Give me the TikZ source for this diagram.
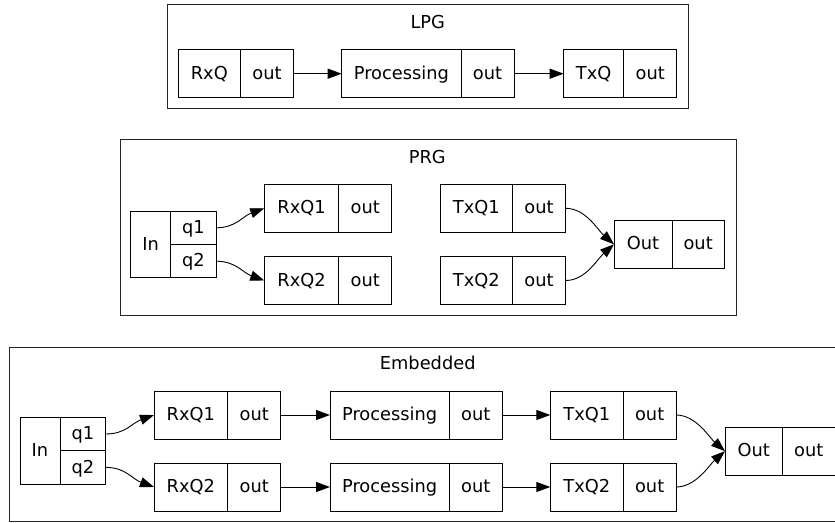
\documentclass[tikz,border=0pt]{standalone}
\usepackage{fontspec}
\setmainfont{DejaVu Sans}
\usetikzlibrary{arrows.meta}
\newcommand\gvfont{\fontsize{17.8bp}{20bp}\selectfont}
\tikzset{
  cell/.style={draw, line width=0.9bp, inner sep=0pt, outer sep=0pt,
    minimum height=48bp, text height=14bp, text depth=2.8bp,
    anchor=west, font=\gvfont},
  halfcell/.style={cell, minimum height=33.35bp},
  arr/.style={line width=0.9bp, -{Triangle[length=14bp,width=10bp]}},
  cluster/.style={draw, line width=1bp, black!85},
  ctitle/.style={anchor=base, inner sep=0pt, font=\gvfont}
}
\begin{document}
\begin{tikzpicture}[x=1bp,y=-1bp]
\useasboundingbox (0,0) rectangle (835,523);
\clip (0,0) rectangle (835,523);

% ---------- LPG ----------
\draw[cluster] (167.3,5) rectangle (688.3,108.3);
\node[ctitle] (lpgt) at (427.8,29) {LPG};
\node[cell, minimum width=62bp] (lrx) at (178.3,73.7) {RxQ};
\node[cell, minimum width=53.4bp] (lrxo) at (lrx.east) {out};
\node[cell, minimum width=119.3bp] (lpr) at (341.7,73.7) {Processing};
\node[cell, minimum width=53bp] (lpro) at (lpr.east) {out};
\node[cell, minimum width=60bp] (ltx) at (563.7,73.7) {TxQ};
\node[cell, minimum width=53bp] (ltxo) at (ltx.east) {out};
\draw[arr] (lrxo.east) -- (lpr.west);
\draw[arr] (lpro.east) -- (ltx.west);

% ---------- PRG ----------
\draw[cluster] (120,140) rectangle (736,315);
\node[ctitle] (prgt) at (427.3,163.3) {PRG};
\node[cell, minimum width=40bp, minimum height=66.7bp] (pin) at (130.7,244.5) {In};
\node[halfcell, minimum width=45.3bp] (pq1) at (170.7,227.8) {q1};
\node[halfcell, minimum width=45.3bp] (pq2) at (170.7,261.2) {q2};
\node[cell, minimum width=74.4bp] (prx1) at (264.3,208.3) {RxQ1};
\node[cell, minimum width=53bp] (prx1o) at (prx1.east) {out};
\node[cell, minimum width=74.4bp] (prx2) at (264.3,280.5) {RxQ2};
\node[cell, minimum width=53bp] (prx2o) at (prx2.east) {out};
\node[cell, minimum width=72bp] (ptx1) at (440.3,208.3) {TxQ1};
\node[cell, minimum width=53.4bp] (ptx1o) at (ptx1.east) {out};
\node[cell, minimum width=72bp] (ptx2) at (440.3,280.5) {TxQ2};
\node[cell, minimum width=53.4bp] (ptx2o) at (ptx2.east) {out};
\node[cell, minimum width=58bp] (pout) at (614,244.3) {Out};
\node[cell, minimum width=52.3bp] (pouto) at (pout.east) {out};
\draw[arr] (pq1.east) .. controls +(20,0) and +(-22,8) .. (prx1.west);
\draw[arr] (pq2.east) .. controls +(20,0) and +(-22,-8) .. (prx2.west);
\draw[arr] (ptx1o.east) .. controls +(20,0) and +(-16,-14) .. (pout.west);
\draw[arr] (ptx2o.east) .. controls +(20,0) and +(-16,14) .. (pout.west);

% ---------- Embedded ----------
\draw[cluster] (9.3,347.3) rectangle (846,521.7);
\node[ctitle] (embt) at (427.7,369) {Embedded};
\node[cell, minimum width=40bp, minimum height=66.7bp] (ein) at (20,450.7) {In};
\node[halfcell, minimum width=45.7bp] (eq1) at (60,434) {q1};
\node[halfcell, minimum width=45.7bp] (eq2) at (60,467.4) {q2};
\node[cell, minimum width=73.7bp] (erx1) at (154,415) {RxQ1};
\node[cell, minimum width=53bp] (erx1o) at (erx1.east) {out};
\node[cell, minimum width=73.7bp] (erx2) at (154,487) {RxQ2};
\node[cell, minimum width=53bp] (erx2o) at (erx2.east) {out};
\node[cell, minimum width=119.3bp] (epr1) at (330,415) {Processing};
\node[cell, minimum width=53bp] (epr1o) at (epr1.east) {out};
\node[cell, minimum width=119.3bp] (epr2) at (330,487) {Processing};
\node[cell, minimum width=53bp] (epr2o) at (epr2.east) {out};
\node[cell, minimum width=73bp] (etx1) at (550.3,415) {TxQ1};
\node[cell, minimum width=52.7bp] (etx1o) at (etx1.east) {out};
\node[cell, minimum width=73bp] (etx2) at (550.3,487) {TxQ2};
\node[cell, minimum width=52.7bp] (etx2o) at (etx2.east) {out};
\node[cell, minimum width=57.3bp] (eout) at (725,451.2) {Out};
\node[cell, minimum width=53bp] (eouto) at (eout.east) {out};
\draw[arr] (eq1.east) .. controls +(20,0) and +(-22,8) .. (erx1.west);
\draw[arr] (eq2.east) .. controls +(20,0) and +(-22,-8) .. (erx2.west);
\draw[arr] (erx1o.east) -- (epr1.west);
\draw[arr] (erx2o.east) -- (epr2.west);
\draw[arr] (epr1o.east) -- (etx1.west);
\draw[arr] (epr2o.east) -- (etx2.west);
\draw[arr] (etx1o.east) .. controls +(20,0) and +(-16,-14) .. (eout.west);
\draw[arr] (etx2o.east) .. controls +(20,0) and +(-16,14) .. (eout.west);
\end{tikzpicture}
\end{document}
